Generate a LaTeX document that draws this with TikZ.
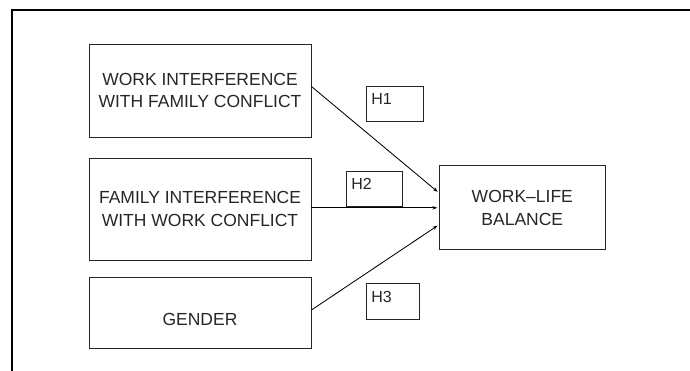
\documentclass[tikz,border=0pt]{standalone}
\usepackage{fontspec}
\setmainfont{Liberation Sans}
\usetikzlibrary{arrows.meta}
\begin{document}
\begin{tikzpicture}[x=1pt,y=-1pt,
  box/.style={draw=black!85, line width=0.9pt, inner sep=0pt, align=center,
    font=\fontsize{17.5}{22.7}\selectfont, text=black!85},
  hbox/.style={draw=black!85, line width=0.9pt, inner sep=0pt},
  hlab/.style={anchor=north west, inner sep=0pt, xshift=5.5pt, yshift=-7.5pt,
    font=\fontsize{16}{18}\selectfont, text=black!85},
  glab/.style={inner sep=0pt, yshift=-6pt, font=\fontsize{17.5}{22.7}\selectfont, text=black!85},
  conn/.style={draw=black, line width=0.85pt, -{Stealth[length=5pt,width=3.5pt]}, shorten >=1.5pt}]
\useasboundingbox (0,0) rectangle (690,371);
\draw[line width=1.6pt] (690,10) -- (12,10) -- (12,371);
\node[box, minimum width=222pt, minimum height=93pt] (b1) at (200,90.5)
  {WORK INTERFERENCE\\WITH FAMILY CONFLICT};
\node[box, minimum width=222pt, minimum height=102pt] (b2) at (200,209)
  {FAMILY INTERFERENCE\\WITH WORK CONFLICT};
\node[box, minimum width=222pt, minimum height=70.6pt,
  label={[glab]center:GENDER}] (b3) at (200,313) {};
\node[box, minimum width=166pt, minimum height=84pt] (wlb) at (522.3,207.8)
  {WORK–LIFE\\BALANCE};
\node[hbox, minimum width=57pt, minimum height=35.3pt,
  label={[hlab]north west:H1}] (h1) at (394.5,104.3) {};
\node[hbox, minimum width=56pt, minimum height=35.4pt,
  label={[hlab]north west:H2}] (h2) at (374,189) {};
\node[hbox, minimum width=53pt, minimum height=35.6pt,
  label={[hlab]north west:H3}] (h3) at (392.5,301.5) {};
\draw[conn] ([yshift=4pt]b1.east) -- ([yshift=15pt]wlb.west);
\draw[conn] (wlb.west -| b2.east) -- (wlb.west);
\draw[conn] ([yshift=3pt]b3.east) -- ([yshift=-17pt]wlb.west);
\end{tikzpicture}
\end{document}
